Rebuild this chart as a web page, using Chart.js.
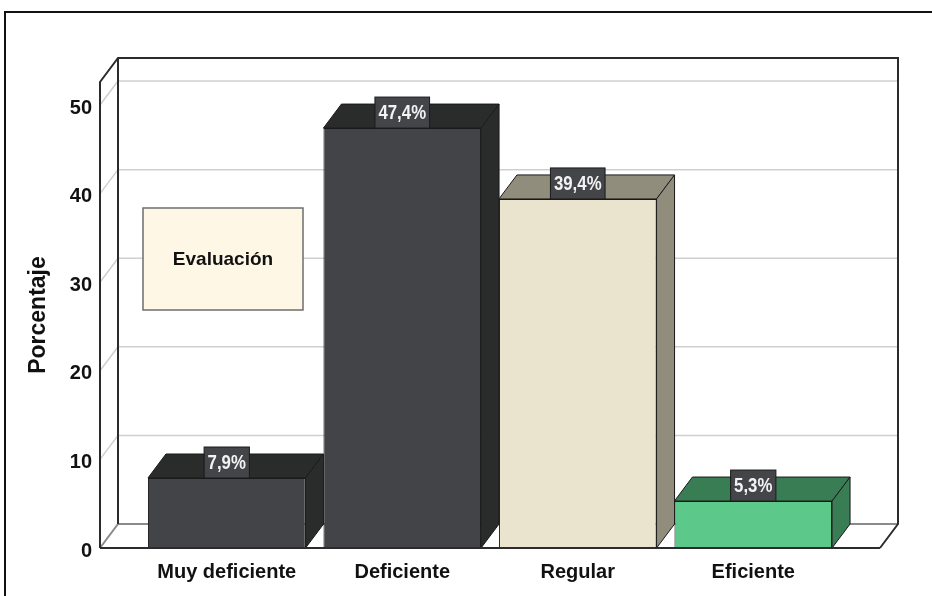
<!DOCTYPE html>
<html>
<head>
<meta charset="utf-8">
<script src="https://cdn.jsdelivr.net/npm/chart.js@4.4.1/dist/chart.umd.min.js"></script>
<style>
  html, body { margin: 0; padding: 0; background: #fff; overflow: hidden; }
  #wrap { position: relative; width: 932px; height: 596px; }
  #frame { position: absolute; left: 4px; top: 11px; width: 1000px; height: 1000px; border: 2px solid #111; box-sizing: border-box; }
  canvas { position: absolute; left: 0; top: 0; }
</style>
</head>
<body>
<div id="wrap">
  <div id="frame"></div>
  <canvas id="chart" width="932" height="596"></canvas>
</div>
<script>
const categories = ["Muy deficiente", "Deficiente", "Regular", "Eficiente"];
const percentages = [7.9, 47.4, 39.4, 5.3];
const frontColors = ["#434447", "#434447", "#EAE4CE", "#5CC98B"];
const shadeColors = ["#2A2B2B", "#2A2B2B", "#918D7D", "#397D54"];
const yTickValues = [0, 10, 20, 30, 40, 50];
const yTitle = "Porcentaje";
const legendTitle = "Evaluación";

const FONT = "'Liberation Sans', Arial, sans-serif";

// depth of the fake 3D box
const depth = { dx: 18, dy: -24, pad: 39 };

function line(ctx, pts) {
    ctx.beginPath();
    ctx.moveTo(pts[0][0], pts[0][1]);
    for (let i = 1; i < pts.length; i++) ctx.lineTo(pts[i][0], pts[i][1]);
    ctx.stroke();
}

function poly(ctx, pts, fill, stroke) {
    ctx.beginPath();
    ctx.moveTo(pts[0][0], pts[0][1]);
    for (let i = 1; i < pts.length; i++) ctx.lineTo(pts[i][0], pts[i][1]);
    ctx.closePath();
    ctx.fillStyle = fill;
    ctx.fill();
    ctx.strokeStyle = stroke;
    ctx.lineWidth = 1;
    ctx.stroke();
}

const box3d = {
    id: "box3d",
    beforeDatasetsDraw(chart) {
        const { ctx, chartArea: a, scales: { y } } = chart;
        const { dx, dy, pad } = depth;
        const x0 = a.left - pad, x1 = a.right + pad;
        const yb = y.getPixelForValue(0), yt = a.top;
        ctx.save();
        // grid lines on back and left walls
        ctx.strokeStyle = "#cfcfcf";
        ctx.lineWidth = 1.5;
        yTickValues.forEach(v => {
            if (v === 0) return;
            const py = y.getPixelForValue(v);
            line(ctx, [[x0, py], [x0 + dx, py + dy], [x1 + dx, py + dy]]);
        });
        // floor back edge
        ctx.strokeStyle = "#8a8a8a";
        ctx.lineWidth = 2;
        line(ctx, [[x0, yb], [x0 + dx, yb + dy], [x1 + dx, yb + dy]]);
        // box outline
        ctx.strokeStyle = "#2b2b2b";
        line(ctx, [[x0, yb], [x0, yt], [x0 + dx, yt + dy], [x1 + dx, yt + dy], [x1 + dx, yb + dy], [x1, yb]]);
        line(ctx, [[x0 + dx, yt + dy], [x0 + dx, yb + dy]]);
        ctx.restore();
    },
    afterDatasetsDraw(chart) {
        const { ctx, chartArea: a, scales: { y } } = chart;
        const { dx, dy, pad } = depth;
        const bars = chart.getDatasetMeta(0).data;
        ctx.save();
        bars.forEach((bar, i) => {
            const l = bar.x - bar.width / 2, r = bar.x + bar.width / 2;
            // top face
            poly(ctx, [[l, bar.y], [l + dx, bar.y + dy], [r + dx, bar.y + dy], [r, bar.y]], shadeColors[i], "#1a1a1a");
            // right side face
            poly(ctx, [[r, bar.y], [r + dx, bar.y + dy], [r + dx, bar.base + dy], [r, bar.base]], shadeColors[i], "#1a1a1a");
        });
        // front floor edge
        const yb = y.getPixelForValue(0);
        ctx.strokeStyle = "#2b2b2b";
        ctx.lineWidth = 2;
        line(ctx, [[a.left - pad, yb], [a.right + pad, yb]]);

        // value labels
        ctx.font = "bold 21px " + FONT;
        ctx.textAlign = "center";
        ctx.textBaseline = "middle";
        bars.forEach((bar, i) => {
            const txt = percentages[i].toFixed(1).replace(".", ",") + "%";
            const tw = ctx.measureText(txt).width * 0.8;
            const bw = tw + 7, bh = 31;
            ctx.fillStyle = "#444549";
            ctx.fillRect(bar.x - bw / 2, bar.y - bh, bw, bh);
            ctx.strokeStyle = "#1b1b1b";
            ctx.lineWidth = 1;
            ctx.strokeRect(bar.x - bw / 2, bar.y - bh, bw, bh);
            ctx.save();
            ctx.translate(bar.x, bar.y - bh / 2 + 1);
            ctx.scale(0.8, 1);
            ctx.fillStyle = "#f2f2f2";
            ctx.fillText(txt, 0, 0);
            ctx.restore();
        });
        ctx.restore();
    },
    afterDraw(chart) {
        const { ctx, chartArea: a } = chart;
        const bx = a.left + 4, by = 208, bw = 160, bh = 102;
        ctx.save();
        ctx.fillStyle = "#FEF7E5";
        ctx.fillRect(bx, by, bw, bh);
        ctx.strokeStyle = "#6e6e6e";
        ctx.lineWidth = 1.5;
        ctx.strokeRect(bx, by, bw, bh);
        ctx.fillStyle = "#111";
        ctx.font = "bold 19px " + FONT;
        ctx.textAlign = "center";
        ctx.textBaseline = "middle";
        ctx.fillText(legendTitle, bx + bw / 2, by + bh / 2 + 1);
        ctx.restore();
    }
};

new Chart(document.getElementById("chart"), {
    type: "bar",
    data: {
        labels: categories,
        datasets: [{
            data: percentages,
            backgroundColor: frontColors,
            borderColor: "#1a1a1a",
            borderWidth: 1,
            categoryPercentage: 1,
            barPercentage: 0.898
        }]
    },
    options: {
        responsive: false,
        animation: false,
        layout: { padding: { left: 21, top: 82, right: 91, bottom: 0 } },
        scales: {
            x: {
                offset: true,
                afterFit: s => { s.height = 48; },
                grid: { display: false, drawTicks: false },
                border: { display: false },
                ticks: {
                    padding: 12,
                    color: "#111",
                    maxRotation: 0,
                    autoSkip: false,
                    font: { family: FONT, size: 20, weight: "bold" }
                }
            },
            y: {
                min: 0,
                max: 52.6,
                afterBuildTicks: s => { s.ticks = yTickValues.map(v => ({ value: v })); },
                afterFit: s => { s.width = 118; s.paddingTop = 0; s.paddingBottom = 0; },
                grid: { display: false, drawTicks: false },
                border: { display: false },
                ticks: {
                    padding: 47,
                    labelOffset: 3,
                    color: "#111",
                    font: { family: FONT, size: 20, weight: "bold" }
                },
                title: {
                    display: true,
                    text: yTitle,
                    color: "#111",
                    padding: { top: 4, bottom: 0 },
                    font: { family: FONT, size: 23, weight: "bold" }
                }
            }
        },
        plugins: {
            legend: { display: false },
            tooltip: { enabled: false }
        }
    },
    plugins: [box3d]
});
</script>
</body>
</html>
